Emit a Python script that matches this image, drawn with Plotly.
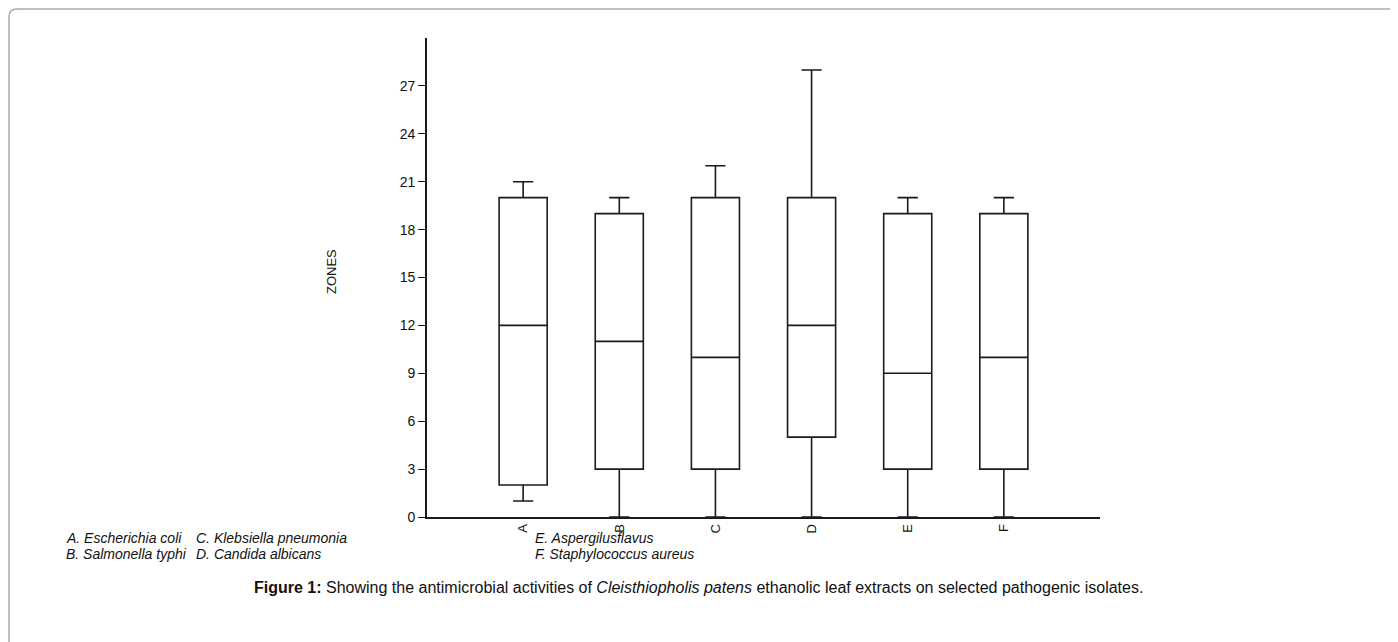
import plotly.graph_objects as go

# ---- data ----
categories = ["A", "B", "C", "D", "E", "F"]
lower = [1, 0, 0, 0, 0, 0]
q1 = [2, 3, 3, 5, 3, 3]
median = [12, 11, 10, 12, 9, 10]
q3 = [20, 19, 20, 20, 19, 19]
upper = [21, 20, 22, 28, 20, 20]
y_ticks = [0, 3, 6, 9, 12, 15, 18, 21, 24, 27]
legend_col1 = ["A. Escherichia coli", "B. Salmonella typhi"]
legend_col2 = ["C. Klebsiella pneumonia", "D. Candida albicans"]
legend_col3 = ["E. Aspergilusflavus", "F. Staphylococcus aureus"]
caption = ("<b>Figure 1:</b> Showing the antimicrobial activities of <i>Cleisthiopholis patens</i> "
           "ethanolic leaf extracts on selected pathogenic isolates.")

OFF = 8  # page body margin
W, H = 1398 - OFF, 642 - OFF
L, R, T, B = 427 - OFF, 1100 - OFF, 38 - OFF, 517 - OFF  # plot area in figure pixels


def px(x):
    return (x - OFF - L) / (R - L)


def py(y):
    return (B - (y - OFF)) / (B - T)


fig = go.Figure()
fig.add_trace(go.Box(
    x=categories, q1=q1, median=median, q3=q3,
    lowerfence=lower, upperfence=upper,
    boxpoints=False, fillcolor="white",
    line=dict(color="#1a1a1a", width=1.6),
    whiskerwidth=0.42, width=0.5, showlegend=False,
))

font_txt = "Liberation Sans, Arial, sans-serif"
anns = []
for col, x0 in ((legend_col1, 64), (legend_col2, 194), (legend_col3, 533)):
    for i, txt in enumerate(col):
        anns.append(dict(
            text="<i>" + txt + "</i>", xref="paper", yref="paper",
            x=px(x0), y=py(538 + 16 * i), xanchor="left", yanchor="middle",
            showarrow=False, font=dict(family=font_txt, size=14, color="#111"),
        ))
anns.append(dict(
    text=caption, xref="paper", yref="paper", x=px(698), y=py(587),
    xanchor="center", yanchor="middle", showarrow=False,
    font=dict(family=font_txt, size=16, color="#111"),
))
anns.append(dict(
    text="ZONES", xref="paper", yref="paper", x=px(331), y=py(272),
    xanchor="center", yanchor="middle", textangle=-90, showarrow=False,
    font=dict(family=font_txt, size=13, color="#111"),
))

# rounded border (clipped at right/bottom)
r = 8
border_path = (f"M {px(9)},{py(700)} L {px(9)},{py(9 + r)} "
               f"Q {px(9)},{py(9)} {px(9 + r)},{py(9)} L {px(1500)},{py(9)}")

fig.update_layout(
    width=W, height=H, autosize=False,
    margin=dict(l=L, r=W - R, t=T, b=H - B),
    paper_bgcolor="white", plot_bgcolor="white",
    annotations=anns,
    shapes=[dict(type="path", path=border_path, xref="paper", yref="paper",
                 line=dict(color="#aaaaaa", width=1.5))],
    xaxis=dict(
        type="category", range=[-1, 6], showline=True, linecolor="#1a1a1a",
        linewidth=1.6, ticks="", tickangle=-90, showgrid=False, zeroline=False,
        tickfont=dict(family=font_txt, size=13, color="#111"),
    ),
    yaxis=dict(
        range=[0, 30], tickvals=y_ticks, showline=True, linecolor="#1a1a1a",
        linewidth=1.6, ticks="outside", ticklen=7, tickwidth=1.4, tickcolor="#1a1a1a",
        showgrid=False, zeroline=False,
        tickfont=dict(family=font_txt, size=14, color="#111"),
    ),
)

fig.write_html("out.html")
